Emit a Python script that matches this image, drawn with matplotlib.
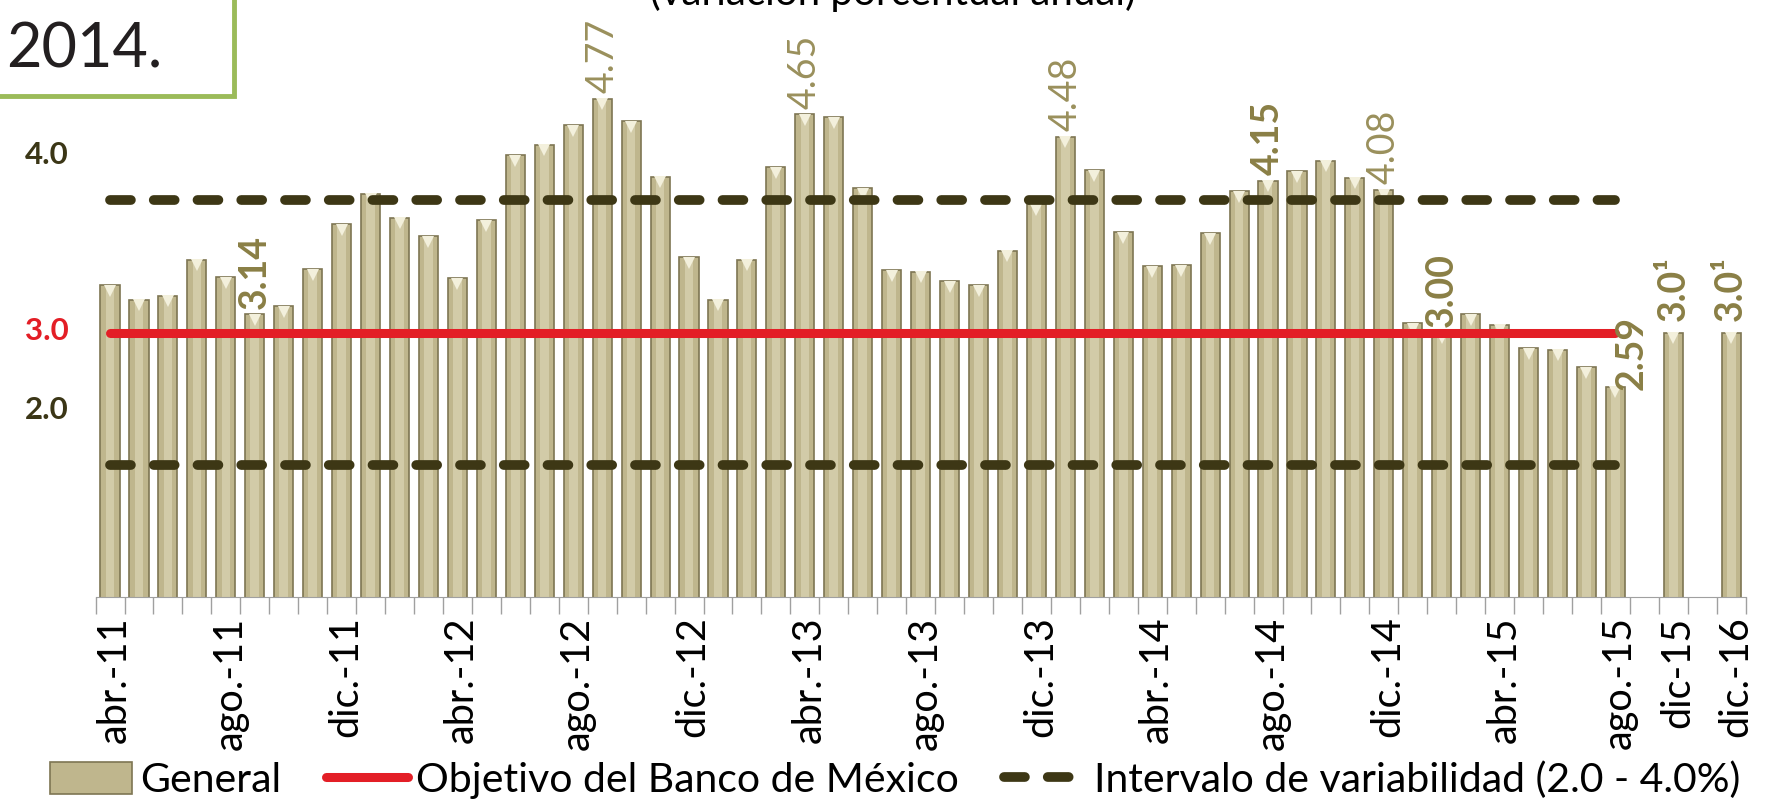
import numpy as np
import matplotlib
matplotlib.use("Agg")
import matplotlib.pyplot as plt
from matplotlib.patches import Rectangle, Patch
from matplotlib.lines import Line2D
from matplotlib.transforms import offset_copy, ScaledTranslation

plt.rcParams['font.family'] = ['Lato', 'DejaVu Sans']

# inflacion general anual, abr-11 a ago-15
months = ["abr.-11", "ago.-11", "dic.-11", "abr.-12", "ago.-12", "dic.-12", "abr.-13",
          "ago.-13", "dic.-13", "abr.-14", "ago.-14", "dic.-14", "abr.-15", "ago.-15"]
general = [3.36, 3.25, 3.28, 3.55, 3.42, 3.14, 3.20, 3.48, 3.82,
           4.05, 3.87, 3.73, 3.41, 3.85, 4.34, 4.42, 4.57, 4.77, 4.60, 4.18, 3.57,
           3.25, 3.55, 4.25, 4.65, 4.63, 4.09, 3.47, 3.46, 3.39, 3.36, 3.62, 3.97,
           4.48, 4.23, 3.76, 3.50, 3.51, 3.75, 4.07, 4.15, 4.22, 4.30, 4.17, 4.08,
           3.07, 3.00, 3.14, 3.06, 2.88, 2.87, 2.74, 2.59]
forecast_names = ["dic-15", "dic.-16"]
forecast = [3.0, 3.0]

objetivo = 3.0
intervalo = (2.0, 4.0)

# etiquetas de datos
lab_idx = [5, 17, 24, 33, 40, 44, 46, 52]
lab_bold = [True, False, False, False, True, False, True, True]

bar_face = "#BFB68D"
bar_edge = "#7E7653"
bar_light = "#D2CBA8"
lab_col = "#9A905C"
lab_bold_col = "#8A7F45"
dash_col = "#3D3715"
red = "#E31E26"
dash_style = (0, (2.15, 2.35))

fig = plt.figure(figsize=(17.73, 8.08), dpi=100)
ax = fig.add_axes([0.0539, 0.2611, 0.9307, 0.7364])

n = len(general)
x = np.arange(n)
xf = np.array([n + 1, n + 3])
w = 0.66

ax.bar(x, general, width=w, color=bar_face, edgecolor=bar_edge, linewidth=1.2, zorder=2)
ax.bar(xf, forecast, width=w, color=bar_face, edgecolor=bar_edge, linewidth=1.2, zorder=2)
ax.bar(x, general, width=w * 0.45, color=bar_light, linewidth=0, zorder=2)
ax.bar(xf, forecast, width=w * 0.45, color=bar_light, linewidth=0, zorder=2)
tri = offset_copy(ax.transData, fig=fig, y=-4, units='points')
ax.plot(x, general, 'v', ms=8, color="#F3F0DC", mew=0, transform=tri, zorder=3)
ax.plot(xf, forecast, 'v', ms=8, color="#F3F0DC", mew=0, transform=tri, zorder=3)

# objetivo e intervalo
for v in intervalo:
    ax.hlines(v, 0, n - 1, colors=dash_col, linewidth=7, linestyles=dash_style, zorder=4)
ax.hlines(objetivo, 0, n - 1, colors=red, linewidth=6.5, zorder=5)
for c in ax.collections[-3:]:
    c.set_capstyle('round')

# etiquetas de datos
for i, b in zip(lab_idx, lab_bold):
    dx = 12 if i == n - 1 else 0
    dy = -2 if i == n - 1 else 4
    ax.annotate(f"{general[i]:.2f}", (x[i], general[i]), xytext=(dx, dy),
                textcoords='offset points', rotation=90, ha='center', va='bottom',
                fontsize=27, fontweight='bold' if b else 'normal',
                color=lab_bold_col if b else lab_col, zorder=6)
for xi, v in zip(xf, forecast):
    ax.annotate(f"{v:.1f}\u00b9", (xi, v), xytext=(0, 8), textcoords='offset points',
                rotation=90, ha='center', va='bottom', fontsize=27, fontweight='bold',
                color=lab_bold_col, zorder=6)

ax.set_xlim(-0.5, n + 3.5)
ax.set_ylim(1.0, 5.5)
for s in ['left', 'right', 'top']:
    ax.spines[s].set_visible(False)
ax.spines['bottom'].set_color("#A0A0A0")
ax.set_yticks([])

ax.set_xticks(list(np.arange(0, n, 4)) + list(xf))
ax.set_xticklabels(months + forecast_names, rotation=90, fontsize=28.5)
ax.set_xticks(np.arange(-0.5, n + 4, 1), minor=True)
ax.tick_params(axis='x', which='major', length=0, pad=14)
ax.tick_params(axis='x', which='minor', length=12, color="#A0A0A0", width=1)
shift = ScaledTranslation(3 / 72, 0, fig.dpi_scale_trans)
for t in ax.get_xticklabels():
    t.set_transform(t.get_transform() + shift)

# etiquetas del eje y sobrepuestas
fig.text(47 / 1773, 1 - 155 / 808, "4.0", ha='center', va='center', fontsize=22.5,
         fontweight='bold', color="#3B3616")
fig.text(47 / 1773, 1 - 331 / 808, "3.0", ha='center', va='center', fontsize=22.5,
         fontweight='bold', color=red)
fig.text(47 / 1773, 1 - 410 / 808, "2.0", ha='center', va='center', fontsize=22.5,
         fontweight='bold', color="#3B3616")

# titulo recortado y recuadro
fig.text(893 / 1773, 1 - 5 / 808, "(variación porcentual anual)", ha='center',
         va='baseline', fontsize=29, color="black")
fig.patches.append(Rectangle((-0.01, 1 - 96 / 808), 0.01 + 234 / 1773, 0.02 + 96 / 808,
                             transform=fig.transFigure, fill=False,
                             edgecolor="#9BBB59", linewidth=3.5))
fig.text(6 / 1773, 1 - 68 / 808, "2014.", ha='left', va='baseline', fontsize=44,
         color="#231F20")

handles = [Patch(facecolor=bar_face, edgecolor=bar_edge, linewidth=1.2),
           Line2D([], [], color=red, linewidth=6.5, solid_capstyle='round'),
           Line2D([], [], color=dash_col, linewidth=7, linestyle=dash_style,
                  dash_capstyle='round')]
labels = ["General", "Objetivo del Banco de México", "Intervalo de variabilidad (2.0 - 4.0%)"]
fig.legend(handles, labels, loc='center', bbox_to_anchor=(0.505, 0.034), ncol=3,
           frameon=False, fontsize=29.5, handlelength=2.0, handleheight=0.8,
           handletextpad=0.2, columnspacing=1.1, borderaxespad=0)

fig.savefig("out.png", dpi=100)
